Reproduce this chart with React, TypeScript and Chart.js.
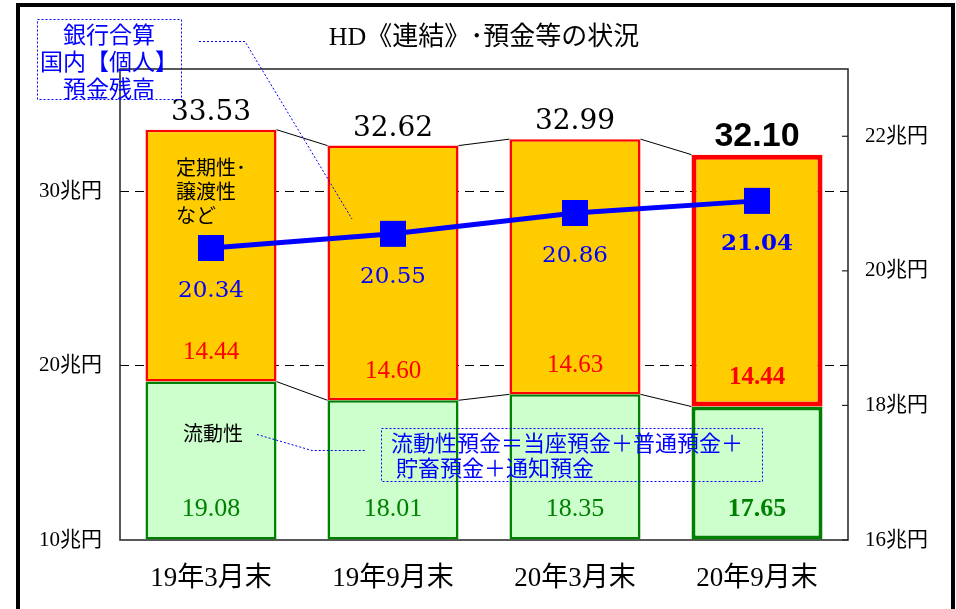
import React, { useEffect, useRef } from "react";
import { Chart, registerables } from "chart.js";

Chart.register(...registerables);

// ---- data ----
const categories = ["19年3月末", "19年9月末", "20年3月末", "20年9月末"];
const liquidValues = [19.08, 18.01, 18.35, 17.65];
const fixedValues = [14.44, 14.6, 14.63, 14.44];
const totalValues = [33.53, 32.62, 32.99, 32.1];
const individualValues = [20.34, 20.55, 20.86, 21.04];
const leftTicks = [10, 20, 30];
const rightTicks = [16, 18, 20, 22];
const leftRange = [10, 37];
const rightRange = [16, 23];
const unitLabel = "兆円";
const titleText = "HD《連結》･預金等の状況";
const individualNote = ["銀行合算", "国内【個人】", "預金残高"];
const fixedNote = ["定期性･", "譲渡性", "など"];
const liquidNote = "流動性";
const liquidDefinition = ["流動性預金＝当座預金＋普通預金＋", " 貯畜預金＋通知預金"];
const highlightIndex = 3;

const SERIF = '"Liberation Serif", "Noto Sans CJK JP", serif';
const DSERIF = '"DejaVu Serif", serif';
const JP = '"Noto Sans CJK JP", sans-serif';

const BLUE = "#0000FF";
const RED = "#FF0000";
const GREEN = "#008000";

const fmt = (v: number) => v.toFixed(2);

const annotate = {
  id: "annotate",
  beforeDraw(chart: any) {
    const ctx = chart.ctx;
    ctx.save();
    ctx.fillStyle = "#fff";
    ctx.fillRect(0, 0, chart.width, chart.height);
    ctx.restore();
  },
  beforeDatasetsDraw(chart: any) {
    const ctx = chart.ctx;
    const a = chart.chartArea;
    ctx.save();
    // plot frame
    ctx.strokeStyle = "#222";
    ctx.lineWidth = 1.5;
    ctx.strokeRect(a.left, a.top, a.right - a.left, a.bottom - a.top);
    // right axis inner ticks
    const y2 = chart.scales.y2;
    ctx.lineWidth = 1.2;
    rightTicks.forEach((v) => {
      const y = y2.getPixelForValue(v);
      ctx.beginPath();
      ctx.moveTo(a.right - 6, y);
      ctx.lineTo(a.right, y);
      ctx.stroke();
    });
    // connectors between bars
    const green = chart.getDatasetMeta(0).data;
    const orange = chart.getDatasetMeta(1).data;
    ctx.strokeStyle = "#000";
    ctx.lineWidth = 1;
    [green, orange].forEach((els: any[]) => {
      for (let i = 0; i < els.length - 1; i++) {
        const p = els[i];
        const q = els[i + 1];
        ctx.beginPath();
        ctx.moveTo(p.x + p.width / 2, p.y);
        ctx.lineTo(q.x - q.width / 2, q.y);
        ctx.stroke();
      }
    });
    ctx.restore();
  },
  afterDatasetsDraw(chart: any) {
    const ctx = chart.ctx;
    const a = chart.chartArea;
    const green = chart.getDatasetMeta(0).data;
    const orange = chart.getDatasetMeta(1).data;
    const line = chart.getDatasetMeta(2).data;
    ctx.save();
    ctx.textAlign = "center";
    ctx.textBaseline = "middle";

    categories.forEach((_, i) => {
      const hl = i === highlightIndex;
      const o = orange[i];
      const g = green[i];
      // totals
      ctx.fillStyle = "#000";
      ctx.font = hl ? 'bold 34px "Liberation Sans", sans-serif' : "28px " + DSERIF;
      ctx.fillText(fmt(totalValues[i]), o.x, o.y - (hl ? 18 : 17));
      // fixed segment
      ctx.fillStyle = RED;
      ctx.font = (hl ? "bold " : "") + "25px " + SERIF;
      ctx.fillText(fmt(fixedValues[i]), o.x, o.base - 29);
      // liquid segment
      ctx.fillStyle = GREEN;
      ctx.font = (hl ? "bold " : "") + "26px " + SERIF;
      ctx.fillText(fmt(liquidValues[i]), g.x, a.bottom - 31);
      // individual deposits
      const p = line[i];
      ctx.fillStyle = BLUE;
      ctx.font = (hl ? "bold " : "") + "23px " + DSERIF;
      ctx.fillText(fmt(individualValues[i]), p.x, p.y + 43);
    });

    // notes inside first bar
    ctx.fillStyle = "#000";
    ctx.textAlign = "left";
    ctx.font = "20px " + JP;
    fixedNote.forEach((t, k) => ctx.fillText(t, 176, 167 + k * 24));
    ctx.textAlign = "center";
    ctx.fillText(liquidNote, 213, 433);

    // title
    ctx.font = "26px " + SERIF;
    ctx.fillText(titleText, (a.left + a.right) / 2, 38);

    // callout 1
    ctx.setLineDash([2, 2]);
    ctx.strokeStyle = BLUE;
    ctx.lineWidth = 1;
    ctx.strokeRect(37.5, 19.5, 144, 80);
    ctx.beginPath();
    ctx.moveTo(199, 41.5);
    ctx.lineTo(245, 41.5);
    ctx.lineTo(352, 219);
    ctx.stroke();
    // callout 2
    ctx.strokeRect(381.5, 428.5, 381, 53);
    ctx.beginPath();
    ctx.moveTo(257, 434.5);
    ctx.lineTo(312, 450.5);
    ctx.lineTo(365, 450.5);
    ctx.stroke();
    ctx.setLineDash([]);

    ctx.fillStyle = BLUE;
    ctx.font = "23px " + JP;
    individualNote.forEach((t, k) => ctx.fillText(t, 109, 34 + k * 27));
    ctx.textAlign = "left";
    ctx.font = "22px " + JP;
    liquidDefinition.forEach((t, k) => ctx.fillText(t, 391, 443 + k * 25));

    ctx.restore();
  },
  afterDraw(chart: any) {
    const ctx = chart.ctx;
    ctx.save();
    ctx.strokeStyle = "#000";
    ctx.lineWidth = 4;
    ctx.strokeRect(18, 5, 935, 700);
    ctx.restore();
  },
};

export default function App() {
  const ref = useRef<HTMLCanvasElement>(null);
  useEffect(() => {
    const bw = (thin: number, thick: number) => categories.map((_, i) => (i === highlightIndex ? thick : thin));
    const chart = new Chart(ref.current as HTMLCanvasElement, {
      type: "bar",
      data: {
        labels: categories,
        datasets: [
          {
            type: "bar",
            label: "流動性",
            data: liquidValues,
            base: leftRange[0],
            backgroundColor: "#CCFFCC",
            borderColor: GREEN,
            borderWidth: bw(2.5, 4),
            borderSkipped: false,
            grouped: false,
            barPercentage: 0.72,
            categoryPercentage: 1,
            order: 2,
            yAxisID: "y",
          } as any,
          {
            type: "bar",
            label: "定期性",
            data: liquidValues.map((g, i) => [g, g + fixedValues[i]]),
            backgroundColor: "#FFCC00",
            borderColor: RED,
            borderWidth: bw(2.5, 5),
            borderSkipped: false,
            grouped: false,
            barPercentage: 0.72,
            categoryPercentage: 1,
            order: 1,
            yAxisID: "y",
          } as any,
          {
            type: "line",
            label: "個人預金残高",
            data: individualValues,
            borderColor: BLUE,
            backgroundColor: BLUE,
            borderWidth: 5,
            pointStyle: "rect",
            pointRadius: 18.4,
            pointBorderWidth: 0,
            pointBackgroundColor: BLUE,
            order: 0,
            yAxisID: "y2",
            clip: false,
          } as any,
        ],
      },
      options: {
        responsive: false,
        animation: false,
        events: [],
        layout: { padding: { top: 69, left: 0, right: 0, bottom: 0 } },
        plugins: {
          legend: { display: false },
          tooltip: { enabled: false },
          title: { display: false },
        },
        scales: {
          x: {
            grid: { display: false, drawTicks: false },
            border: { display: false },
            ticks: {
              color: "#000",
              padding: 23,
              font: { family: SERIF, size: 27 },
            },
            afterFit: (s: any) => {
              s.height = 69;
            },
          },
          y: {
            position: "left",
            min: leftRange[0],
            max: leftRange[1],
            afterBuildTicks: (s: any) => {
              s.ticks = leftTicks.map((v) => ({ value: v }));
            },
            grid: {
              drawTicks: false,
              color: (c: any) => (c.tick && c.tick.value === leftRange[0] ? "rgba(0,0,0,0)" : "#000"),
              lineWidth: 1,
            },
            border: { display: false, dash: [9, 6] },
            ticks: {
              color: "#000",
              padding: 18,
              font: { family: SERIF, size: 21 },
              callback: (v: any) => v + unitLabel,
            },
            afterFit: (s: any) => {
              s.width = 120;
            },
          },
          y2: {
            position: "right",
            min: rightRange[0],
            max: rightRange[1],
            afterBuildTicks: (s: any) => {
              s.ticks = rightTicks.map((v) => ({ value: v }));
            },
            grid: { drawOnChartArea: false, drawTicks: false },
            border: { display: false },
            ticks: {
              color: "#000",
              padding: 17,
              font: { family: SERIF, size: 21 },
              callback: (v: any) => v + unitLabel,
            },
            afterFit: (s: any) => {
              s.width = 108;
            },
          },
        },
      },
      plugins: [annotate],
    } as any);
    return () => chart.destroy();
  }, []);

  return (
    <div style={{ position: "absolute", left: 0, top: 0, width: 956, height: 609, background: "#fff" }}>
      <canvas ref={ref} width={956} height={609} style={{ display: "block", width: 956, height: 609 }} />
    </div>
  );
}
